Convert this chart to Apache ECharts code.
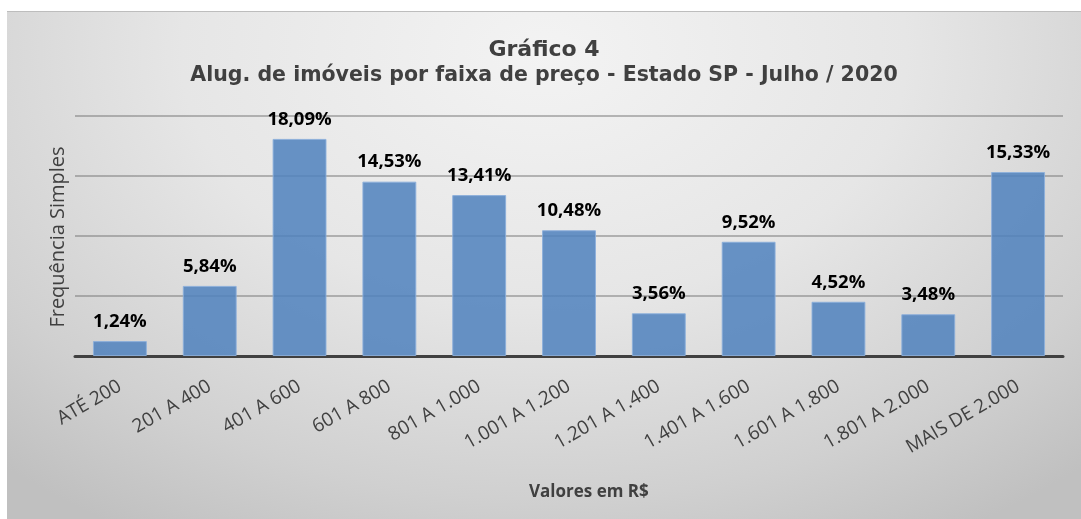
<!DOCTYPE html>
<html>
<head>
<meta charset="utf-8">
<script src="https://cdn.jsdelivr.net/npm/echarts@6/dist/echarts.min.js"></script>
<style>
html,body{margin:0;padding:0;background:#ffffff;width:1081px;height:519px;overflow:hidden;}
#box{position:absolute;left:7px;top:11px;width:1074px;height:508px;
background:radial-gradient(ellipse 75% 110% at 50% 8%, #f3f3f3 0%, #e6e6e6 45%, #d0d0d0 80%, #c0c0c0 100%);
border-top:1px solid #bdbdbd;box-sizing:border-box;}
#chart{position:absolute;left:0;top:0;width:1074px;height:508px;}
</style>
</head>
<body>
<div id="box"><div id="chart"></div></div>
<script>
var categories = ['ATÉ 200','201 A 400','401 A 600','601 A 800','801 A 1.000','1.001 A 1.200','1.201 A 1.400','1.401 A 1.600','1.601 A 1.800','1.801 A 2.000','MAIS DE 2.000'];
var values = [1.24, 5.84, 18.09, 14.53, 13.41, 10.48, 3.56, 9.52, 4.52, 3.48, 15.33];
var titleText = 'Gráfico 4';
var subtitleText = 'Alug. de imóveis por faixa de preço - Estado SP - Julho / 2020';
var xName = 'Valores em R$';
var yName = 'Frequência Simples';

var chart = echarts.init(document.getElementById('chart'), null, {renderer:'canvas'});
chart.setOption({
  backgroundColor: 'transparent',
  animation: false,
  title: {
    text: titleText,
    subtext: subtitleText,
    left: 'center',
    top: 22,
    itemGap: 4,
    textStyle: {fontFamily: 'DejaVu Sans, sans-serif', fontWeight: 'bold', fontSize: 22, color: '#404040'},
    subtextStyle: {fontFamily: 'DejaVu Sans, sans-serif', fontWeight: 'bold', fontSize: 20.5, color: '#404040'}
  },
  grid: {left: 68, right: 18, top: 104, bottom: 164},
  xAxis: {
    type: 'category',
    data: categories,
    axisLine: {lineStyle: {color: '#404040', width: 3}},
    axisTick: {show: false},
    axisLabel: {rotate: 30, margin: 29, fontSize: 19, color: '#404040', fontFamily: 'Open Sans, sans-serif', interval: 0}
  },
  yAxis: {
    type: 'value',
    min: 0, max: 20, interval: 5,
    axisLabel: {show: false},
    axisLine: {show: false},
    axisTick: {show: false},
    splitLine: {lineStyle: {color: 'rgba(120,120,120,0.5)', width: 2}}
  },
  series: [{
    type: 'bar',
    data: values,
    barCategoryGap: '40%',
    itemStyle: {color: 'rgba(79,129,189,0.85)', borderColor: 'rgba(140,175,220,0.9)', borderWidth: 1},
    label: {
      show: true, position: 'top', distance: 10,
      formatter: function(p){ return p.value.toFixed(2).replace('.', ',') + '%'; },
      fontFamily: 'Open Sans, sans-serif', fontWeight: 'bold', fontSize: 18.5, color: '#000000'
    }
  }],
  graphic: [
    {type: 'text', left: 522, top: 472, style: {text: xName, fontFamily: 'Open Sans, sans-serif', fontWeight: 'bold', fontSize: 17, fill: '#404040'}},
    {type: 'text', x: 51, y: 225, rotation: Math.PI/2, style: {text: yName, fontFamily: 'Open Sans, sans-serif', fontSize: 20, fill: '#404040', align: 'center', verticalAlign: 'middle'}}
  ]
});
</script>
</body>
</html>
